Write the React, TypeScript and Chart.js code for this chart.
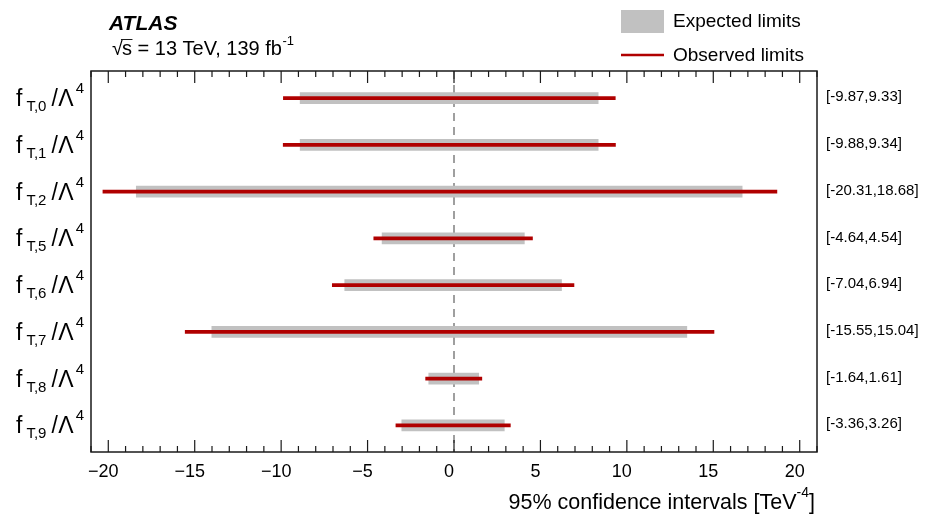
import React, { useEffect, useRef } from "react";
import { Chart, registerables } from "chart.js";

Chart.register(...registerables);

const operatorIndices: string[] = ["0", "1", "2", "5", "6", "7", "8", "9"];
const observedLow: number[] = [-9.87, -9.88, -20.31, -4.64, -7.04, -15.55, -1.64, -3.36];
const observedHigh: number[] = [9.33, 9.34, 18.68, 4.54, 6.94, 15.04, 1.61, 3.26];
const expectedLow: number[] = [-8.9, -8.9, -18.38, -4.16, -6.32, -14.01, -1.46, -3.02];
const expectedHigh: number[] = [8.34, 8.34, 16.67, 4.07, 6.22, 13.47, 1.43, 2.91];
const intervalLabels: string[] = [
  "[-9.87,9.33]",
  "[-9.88,9.34]",
  "[-20.31,18.68]",
  "[-4.64,4.54]",
  "[-7.04,6.94]",
  "[-15.55,15.04]",
  "[-1.64,1.61]",
  "[-3.36,3.26]",
];
const xTickValues: number[] = [-20, -15, -10, -5, 0, 5, 10, 15, 20];

const FONT = "'Liberation Sans', Arial, Helvetica, sans-serif";
const GRAY = "#c1c1c1";
const RED = "#b00000";

const decorPlugin = {
  id: "decor",
  beforeDatasetsDraw(chart: any) {
    const ctx = chart.ctx;
    const xs = chart.scales.x;
    const area = chart.chartArea;
    const x0 = xs.getPixelForValue(0);
    ctx.save();
    ctx.strokeStyle = "#808080";
    ctx.lineWidth = 1.5;
    ctx.setLineDash([8, 6]);
    ctx.beginPath();
    ctx.moveTo(x0, area.top);
    ctx.lineTo(x0, area.bottom);
    ctx.stroke();
    ctx.restore();
  },
  afterDraw(chart: any) {
    const ctx = chart.ctx;
    const xs = chart.scales.x;
    const ys = chart.scales.y;
    const area = chart.chartArea;
    ctx.save();
    // frame
    ctx.strokeStyle = "#1a1a1a";
    ctx.lineWidth = 1.5;
    ctx.strokeRect(area.left, area.top, area.right - area.left, area.bottom - area.top);
    // ticks top & bottom, inward
    ctx.lineWidth = 1.2;
    for (let v = Math.ceil(xs.min); v <= Math.floor(xs.max); v++) {
      const px = xs.getPixelForValue(v);
      const len = v % 5 === 0 ? 12 : 6;
      ctx.beginPath();
      ctx.moveTo(px, area.bottom);
      ctx.lineTo(px, area.bottom - len);
      ctx.moveTo(px, area.top);
      ctx.lineTo(px, area.top + len);
      ctx.stroke();
    }

    ctx.fillStyle = "#000";
    ctx.textBaseline = "alphabetic";
    // left labels
    operatorIndices.forEach((idx, i) => {
      const py = ys.getPixelForValue(i);
      let x = 16;
      ctx.font = `23px ${FONT}`;
      ctx.fillText("f", x, py + 8);
      x += ctx.measureText("f").width + 4;
      ctx.font = `15px ${FONT}`;
      const sub = "T," + idx;
      ctx.fillText(sub, x, py + 13);
      x += ctx.measureText(sub).width + 5;
      ctx.font = `23px ${FONT}`;
      ctx.fillText("/", x, py + 8);
      x += ctx.measureText("/").width + 0.5;
      ctx.fillText("Λ", x, py + 8);
      x += ctx.measureText("Λ").width + 2;
      ctx.font = `15px ${FONT}`;
      ctx.fillText("4", x, py - 5);
    });

    // right labels
    ctx.font = `15px ${FONT}`;
    ctx.textBaseline = "middle";
    intervalLabels.forEach((t, i) => {
      const py = ys.getPixelForValue(i);
      ctx.fillText(t, area.right + 9, py - 1);
    });

    // ATLAS title
    ctx.textBaseline = "alphabetic";
    ctx.font = `italic bold 21px ${FONT}`;
    ctx.fillText("ATLAS", 109, 30);
    // sqrt(s) line
    ctx.font = `20px ${FONT}`;
    let sx = 112;
    const by = 55;
    ctx.fillText("√", sx, by);
    sx += ctx.measureText("√").width - 1;
    const sW = ctx.measureText("s").width;
    ctx.fillText("s", sx, by);
    ctx.lineWidth = 1;
    ctx.beginPath();
    ctx.moveTo(sx - 1, by - 15.5);
    ctx.lineTo(sx + sW + 0.5, by - 15.5);
    ctx.stroke();
    sx += sW;
    const rest = " = 13 TeV, 139 fb";
    ctx.fillText(rest, sx, by);
    sx += ctx.measureText(rest).width + 0.5;
    ctx.font = `13px ${FONT}`;
    ctx.fillText("-1", sx, by - 10);

    // legend
    ctx.fillStyle = GRAY;
    ctx.fillRect(621, 10, 43, 23);
    ctx.strokeStyle = RED;
    ctx.lineWidth = 2.5;
    ctx.beginPath();
    ctx.moveTo(621, 55);
    ctx.lineTo(664, 55);
    ctx.stroke();
    ctx.fillStyle = "#000";
    ctx.font = `19px ${FONT}`;
    ctx.textBaseline = "middle";
    ctx.fillText("Expected limits", 673, 22);
    ctx.fillText("Observed limits", 673, 56);

    // x axis title (right aligned)
    ctx.textBaseline = "alphabetic";
    let ax = 815;
    ctx.font = `21.5px ${FONT}`;
    const close = "]";
    ax -= ctx.measureText(close).width;
    ctx.fillText(close, ax, 509);
    ctx.font = `14px ${FONT}`;
    const sup = "-4";
    ax -= ctx.measureText(sup).width;
    ctx.fillText(sup, ax, 497);
    ctx.font = `21.5px ${FONT}`;
    const main = "95% confidence intervals [TeV";
    ax -= ctx.measureText(main).width;
    ctx.fillText(main, ax, 509);

    ctx.restore();
  },
};

export default function App() {
  const canvasRef = useRef<HTMLCanvasElement | null>(null);

  useEffect(() => {
    document.body.style.margin = "0";
    const canvas = canvasRef.current;
    if (!canvas) return;
    const chart = new Chart(canvas, {
      type: "bar",
      data: {
        datasets: [
          {
            label: "Observed limits",
            data: observedLow.map((lo, i) => ({ x: [lo, observedHigh[i]], y: i })) as any,
            backgroundColor: RED,
            borderWidth: 0,
            barThickness: 3,
            grouped: false,
            order: 0,
          } as any,
          {
            label: "Expected limits",
            data: expectedLow.map((lo, i) => ({ x: [lo, expectedHigh[i]], y: i })) as any,
            backgroundColor: GRAY,
            borderWidth: 0,
            barThickness: 11,
            grouped: false,
            order: 1,
          } as any,
        ],
      },
      options: {
        indexAxis: "y",
        responsive: false,
        animation: false,
        events: [],
        layout: { padding: { left: 91, right: 118, top: 71, bottom: 0 } },
        plugins: {
          legend: { display: false },
          tooltip: { enabled: false },
        },
        scales: {
          x: {
            type: "linear",
            position: "bottom",
            min: -21,
            max: 21,
            grid: { display: false, drawTicks: false },
            border: { display: false },
            afterBuildTicks: (scale: any) => {
              scale.ticks = xTickValues.map((v) => ({ value: v }));
            },
            afterFit: (scale: any) => {
              scale.height = 64;
            },
            ticks: {
              autoSkip: false,
              maxRotation: 0,
              padding: 9,
              labelOffset: -5,
              color: "#000",
              font: { family: FONT, size: 18 },
              callback: (v: any) => {
                const n = Number(v);
                return n < 0 ? "\u2212" + Math.abs(n) : String(n);
              },
            },
          },
          y: {
            type: "linear",
            reverse: true,
            offset: false,
            min: -0.58,
            max: 7.57,
            display: false,
          },
        },
      } as any,
      plugins: [decorPlugin],
    });
    return () => chart.destroy();
  }, []);

  return (
    <div style={{ position: "absolute", left: 0, top: 0, width: 935, height: 516 }}>
      <canvas ref={canvasRef} width={935} height={516} style={{ width: 935, height: 516 }} />
    </div>
  );
}
